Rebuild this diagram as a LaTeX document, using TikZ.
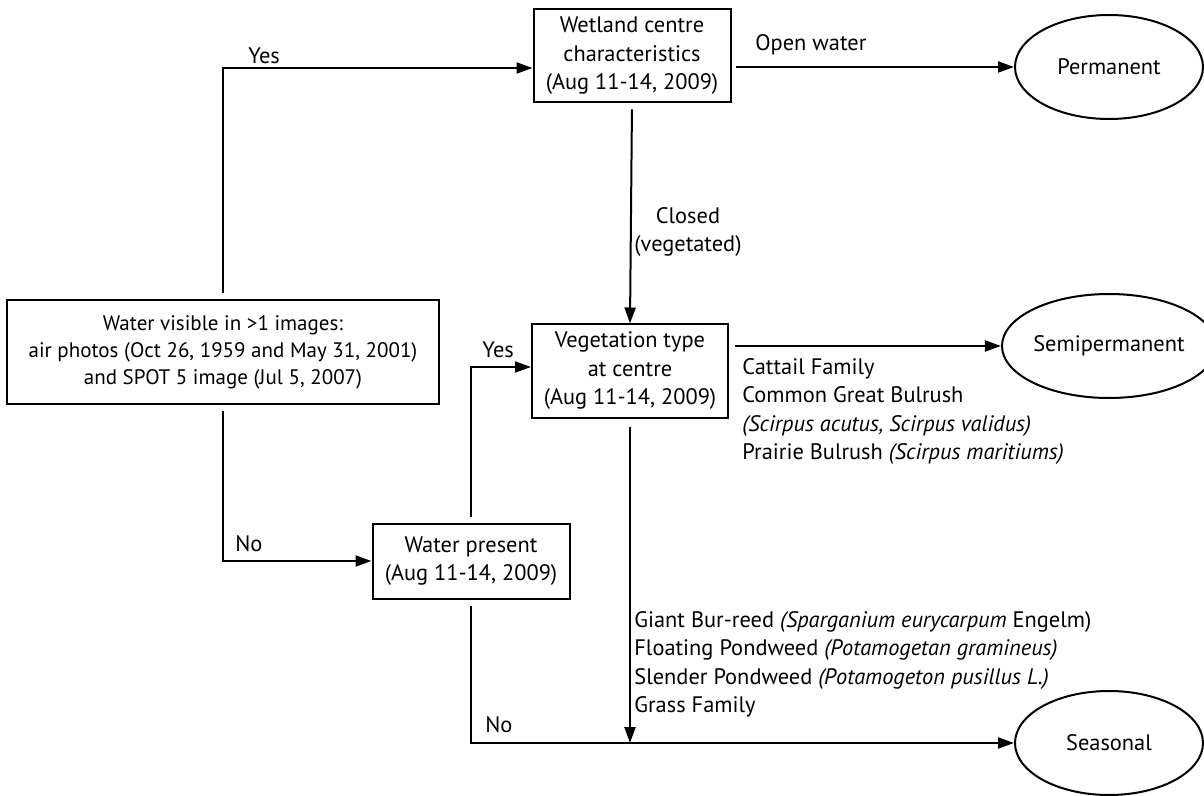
\documentclass[tikz,border=0pt]{standalone}
\usepackage{fontspec}
\setmainfont{PT Sans}
\usetikzlibrary{shapes.geometric}
\usetikzlibrary{arrows.meta}

\begin{document}
\begin{tikzpicture}[x=0.5pt, y=-0.5pt,
        every node/.style={font=\fontsize{11.2}{14.25}\selectfont},
        box/.style={draw, line width=1pt, align=center, inner sep=0pt},
        oval/.style={draw, ellipse, line width=1pt, minimum width=94pt, minimum height=52pt, inner sep=0pt},
        lbl/.style={inner sep=0pt},
        arr/.style={-{Triangle[length=8pt,width=5.5pt]}, line width=1pt}]
        \useasboundingbox (0,0) rectangle (1204,796);
        \node[box, minimum width=216pt, minimum height=52pt, font=\fontsize{10.5}{13.5}\selectfont] (water) at (223,352){Water visible in >1 images:\\air photos (Oct 26, 1959 and May 31, 2001)\\and SPOT 5 image (Jul 5, 2007)};
        \node[box, minimum width=98.5pt, minimum height=46.5pt] (wet) at (632,56){Wetland centre\\characteristics\\(Aug 11-14, 2009)};
        \node[box, minimum width=98pt, minimum height=46.5pt] (veg) at (630,371){Vegetation type\\at centre\\(Aug 11-14, 2009)};
        \node[box, minimum width=98.5pt, minimum height=37.5pt] (pres) at (471,561){Water present\\(Aug 11-14, 2009)};
        \node[oval] (perm) at (1109,67){Permanent};
        \node[oval] (semi) at (1109,346){Semipermanent};
        \node[oval] (seas) at (1109,743){Seasonal};
        \draw[arr, shorten <=3pt] (water.north) |- ([yshift=-6pt]wet.west);
        \draw[arr, shorten <=2pt] (wet.east |- perm) -- (perm.west);
        \draw[arr, shorten <=3pt] (wet.south) -- (veg.north);
        \draw[arr, shorten <=3pt] (veg.east |- semi) -- (semi.west);
        \draw[arr, shorten <=4pt] (veg.south) -- (veg.south |- seas.west);
        \draw[arr, shorten <=3pt] (water.south) |- (pres.west);
        \draw[arr, shorten <=3pt] (pres.north) |- ([yshift=2pt]veg.west);
        \draw[arr, shorten <=3pt] (pres.south) |- (seas.west);
        \node[lbl, anchor=west] (yestop) at (248,56){Yes};
        \node[lbl, anchor=west] (notop) at (235,544){No};
        \node[lbl, anchor=west] (yesmid) at (482,350){Yes};
        \node[lbl, anchor=west] (nolow) at (485,725){No};
        \node[lbl, anchor=west] (open) at (755,45){Open water};
        \node[lbl, anchor=west, align=center] (closed) at (634,232){Closed\\(vegetated)};
        \node[lbl, anchor=north west, align=left] (semilist) at (742,358){Cattail Family\\Common Great Bulrush\\\textit{(Scirpus acutus, Scirpus validus)}\\Prairie Bulrush \textit{(Scirpus maritiums)}};
        \node[lbl, anchor=north west, align=left] (seaslist) at (634,611){Giant Bur-reed \textit{(Sparganium eurycarpum} Engelm)\\Floating Pondweed \textit{(Potamogetan gramineus)}\\Slender Pondweed \textit{(Potamogeton pusillus L.)}\\Grass Family};
    \end{tikzpicture}
\end{document}
